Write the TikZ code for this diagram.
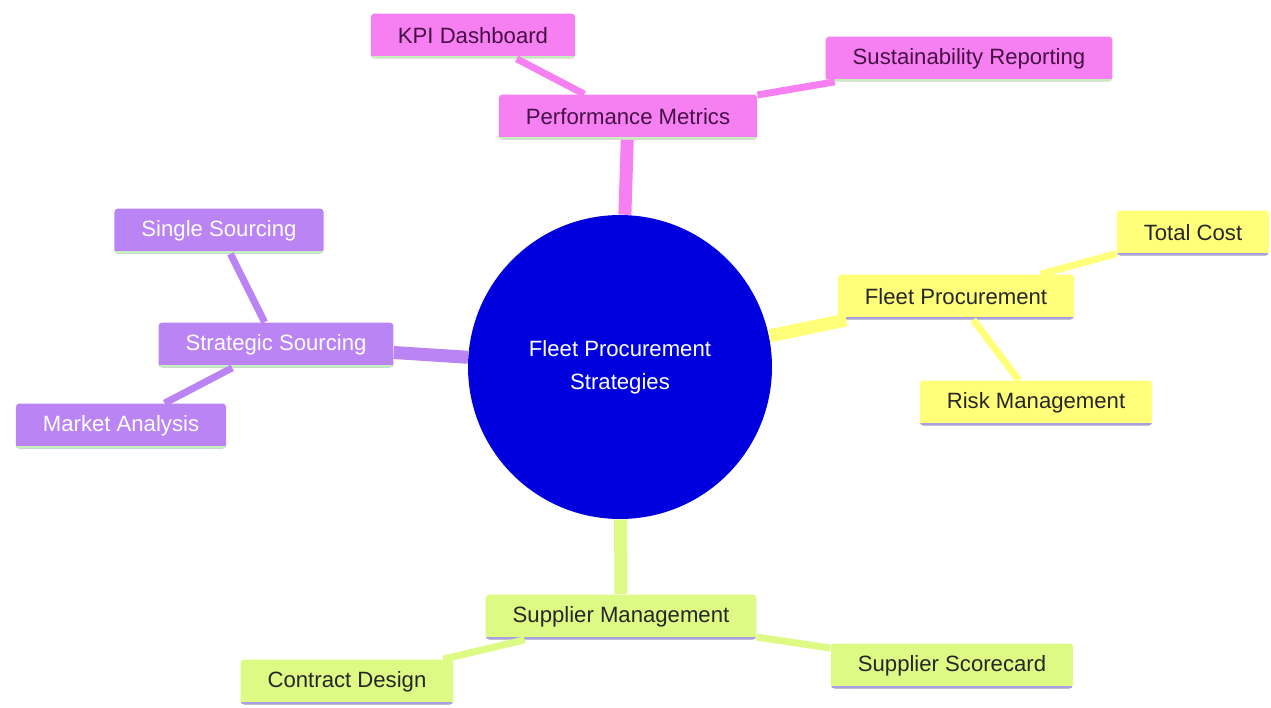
\documentclass[tikz,border=0pt]{standalone}
\usepackage{fontspec}
\setmainfont{Liberation Sans}
\usepackage{tikz}
\definecolor{cblue}{RGB}{0,0,222}
\definecolor{cpink}{RGB}{246,128,242}
\definecolor{cpinktext}{RGB}{70,15,70}
\definecolor{cviolet}{RGB}{186,132,245}
\definecolor{cyellow}{RGB}{255,255,122}
\definecolor{clime}{RGB}{221,250,132}
\definecolor{cmint}{RGB}{196,240,186}
\definecolor{clavender}{RGB}{168,160,226}

\begin{document}
\begin{tikzpicture}[x=0.02cm,y=-0.02cm,
  root node/.style={circle,fill=cblue,text=white,minimum size=6.08cm,inner sep=0pt,
    align=center,font=\fontsize{12.6}{18.8}\selectfont},
  box/.style={rectangle,rounded corners=2pt,minimum height=0.9cm,inner xsep=0.54cm,
    font=\fontsize{12.6}{15}\selectfont},
  pink node/.style={box,fill=cpink,text=cpinktext,
    path picture={\draw[cmint,line width=2.5pt] (path picture bounding box.south west) -- (path picture bounding box.south east);}},
  violet node/.style={box,fill=cviolet,text=white,
    path picture={\draw[cmint,line width=2.5pt] (path picture bounding box.south west) -- (path picture bounding box.south east);}},
  yellow node/.style={box,fill=cyellow,text=black!85,
    path picture={\draw[clavender,line width=2.5pt] (path picture bounding box.south west) -- (path picture bounding box.south east);}},
  lime node/.style={box,fill=clime,text=black!85,
    path picture={\draw[clavender,line width=2.5pt] (path picture bounding box.south west) -- (path picture bounding box.south east);}},
  main edge/.style={line width=0.26cm},
  side edge/.style={line width=0.14cm}]
  \useasboundingbox (0,0) rectangle (1271,707);

  \node[root node] (root) at (620,367) {Fleet Procurement\\Strategies};

  \node[pink node] (perf) at (628,117) {Performance Metrics};
  \node[pink node] (kpi) at (473,36) {KPI Dashboard};
  \node[pink node] (sust) at (969,59) {Sustainability Reporting};

  \node[yellow node] (fleet) at (956,297) {Fleet Procurement};
  \node[yellow node] (cost) at (1193,233) {Total Cost};
  \node[yellow node] (risk) at (1036,403) {Risk Management};

  \node[violet node] (strat) at (276,345) {Strategic Sourcing};
  \node[violet node] (single) at (219,231) {Single Sourcing};
  \node[violet node] (market) at (121,426) {Market Analysis};

  \node[lime node] (supp) at (621,617) {Supplier Management};
  \node[lime node] (contract) at (347,682) {Contract Design};
  \node[lime node] (score) at (952,666) {Supplier Scorecard};

  \path[main edge]
    (root) edge[cpink] (perf)
    (root) edge[cyellow] (fleet)
    (root) edge[cviolet] (strat)
    (root) edge[clime] (supp);
  \path[side edge]
    (perf) edge[cpink] (kpi)
    (perf) edge[cpink] (sust)
    (fleet) edge[cyellow] (cost)
    (fleet) edge[cyellow] (risk)
    (strat) edge[cviolet] (single)
    (strat) edge[cviolet] (market)
    (supp) edge[clime] (contract)
    (supp) edge[clime] (score);
\end{tikzpicture}
\end{document}
